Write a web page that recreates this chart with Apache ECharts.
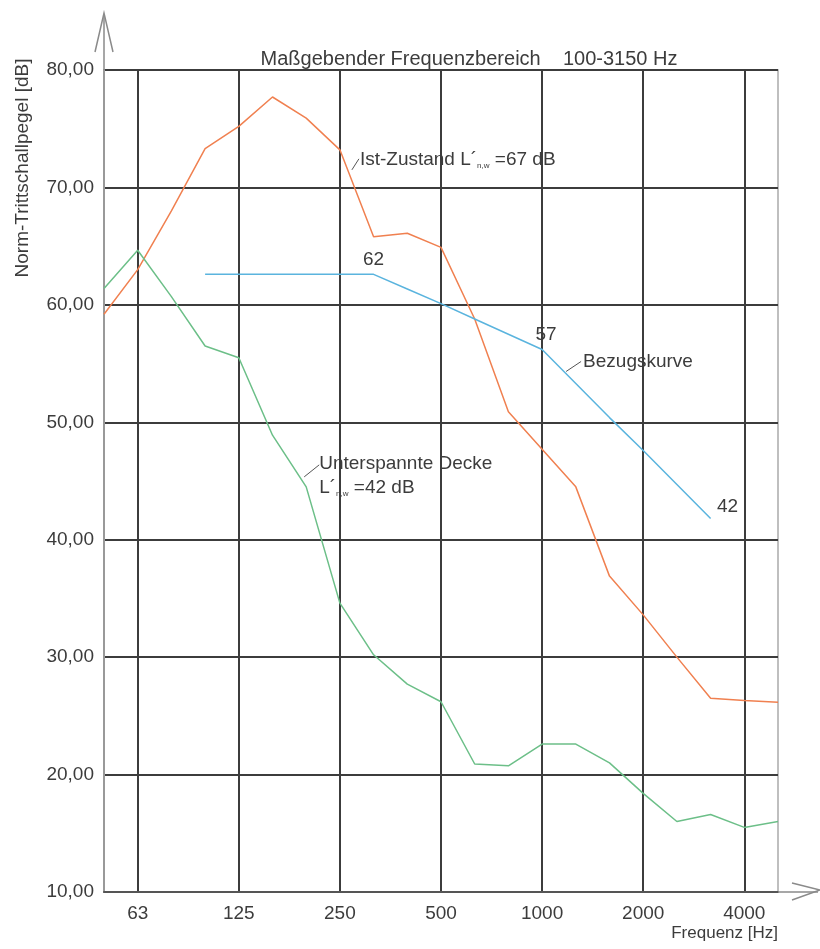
<!DOCTYPE html>
<html>
<head>
<meta charset="utf-8">
<script src="https://cdn.jsdelivr.net/npm/echarts@6/dist/echarts.min.js"></script>
<style>html,body{margin:0;padding:0;background:#fff}#c{width:820px;height:949px}</style>
</head>
<body>
<div id="c"></div>
<script>
// Third-octave band centre frequencies (Hz)
const categories = ['50','63','80','100','125','160','200','250','315','400','500','630','800','1000','1250','1600','2000','2500','3150','4000','5000'];
// Octave tick labels shown on the x axis
const tickLabels = ['63','125','250','500','1000','2000','4000'];
// Ist-Zustand (orange)
const istZustand = [59.2,63.0,68.0,73.3,75.2,77.7,75.9,73.2,65.8,66.1,64.9,58.8,50.9,47.7,44.5,36.9,33.6,30.0,26.5,26.3,26.15];
// Unterspannte Decke (green)
const unterspannt = [61.4,64.65,60.7,56.5,55.5,48.9,44.5,34.6,30.2,27.7,26.2,20.9,20.75,22.6,22.6,21.0,18.4,16.0,16.6,15.5,16.0];
// Bezugskurve (blue), 100-3150 Hz
const bezugskurve = [null,null,null,62.6,62.6,62.6,62.6,62.6,62.6,61.35,60.1,58.8,57.5,56.2,53.3,50.4,47.6,44.7,41.8,null,null];
const yTicks = [10,20,30,40,50,60,70,80];

const FONT = '"Liberation Sans", Arial, sans-serif';
const TXT = '#3c3c3c';
const FS = 19;
const G = {left:104, right:42, top:70, bottom:57};

const chart = echarts.init(document.getElementById('c'));
const option = {
  animation:false,
  backgroundColor:'#fff',
  textStyle:{fontFamily:FONT},
  title:{
    text:'Maßgebender Frequenzbereich    100-3150 Hz',
    left:464, top:44, textAlign:'center',
    textStyle:{fontFamily:FONT,fontSize:20,fontWeight:'normal',color:TXT}
  },
  grid:{left:G.left,right:G.right,top:G.top,bottom:G.bottom,outerBoundsMode:'none',containLabel:false,show:true,borderColor:'#aaa',borderWidth:1.5,backgroundColor:'transparent'},
  xAxis:{
    type:'category', data:categories, boundaryGap:false,
    axisLine:{show:true,lineStyle:{color:'#555',width:2}},
    axisTick:{show:false},
    axisLabel:{
      interval:(i,v)=>tickLabels.includes(v),
      formatter:v=>tickLabels.includes(v)?v:'',
      fontFamily:FONT,fontSize:FS,color:TXT,margin:12
    },
    splitLine:{show:true,interval:(i,v)=>tickLabels.includes(v),lineStyle:{color:'#3c3c3c',width:2}}
  },
  yAxis:{
    type:'value', min:yTicks[0], max:yTicks[yTicks.length-1], interval:10,
    axisLine:{show:true,lineStyle:{color:'#999',width:2}},
    axisTick:{show:false},
    axisLabel:{formatter:v=>v.toFixed(2).replace('.',','),fontFamily:FONT,fontSize:FS,color:TXT,margin:10},
    splitLine:{show:true,lineStyle:{color:'#3c3c3c',width:2}}
  },
  series:[
    {name:'Ist-Zustand',type:'line',data:istZustand,symbol:'none',lineStyle:{color:'#f08050',width:1.5},z:5},
    {name:'Unterspannte Decke',type:'line',data:unterspannt,symbol:'none',lineStyle:{color:'#6cbf88',width:1.5},z:5},
    {name:'Bezugskurve',type:'line',data:bezugskurve,symbol:'none',connectNulls:false,lineStyle:{color:'#5ab4de',width:1.5},z:5}
  ]
};
chart.setOption(option);

function px(i, v){ return chart.convertToPixel({gridIndex:0},[i,v]); }
const rich = {
  sub:{fontSize:8,color:'#888',fontFamily:FONT,verticalAlign:'bottom',padding:[7,0,0,0]},
  n:{fontSize:FS,color:TXT,fontFamily:FONT}
};
const g = [];
function txt(x,y,text,align,size){
  g.push({type:'text',x:x,y:y,z:20,style:{text:text,font:(size||FS)+'px '+FONT,fill:TXT,align:align||'left',verticalAlign:'middle',rich:rich}});
}
function lead(x1,y1,x2,y2){
  g.push({type:'line',z:20,shape:{x1:x1,y1:y1,x2:x2,y2:y2},style:{stroke:'#555',lineWidth:1}});
}
// Bezugskurve labels
let p = px(8, bezugskurve[8]); txt(p[0], p[1]-15, '62', 'center');
p = px(13, bezugskurve[13]); txt(p[0]+4, p[1]-15, '57', 'center');
p = px(18, bezugskurve[18]); txt(p[0]+17, p[1]-12, '42', 'center');
p = px(13, bezugskurve[13]); lead(p[0]+24,p[1]+22,p[0]+39,p[1]+12); txt(p[0]+41, p[1]+12, 'Bezugskurve');
// Ist-Zustand
p = px(7, istZustand[7]); lead(p[0]+12,p[1]+20,p[0]+19,p[1]+9);
txt(p[0]+20, p[1]+10, '{n|Ist-Zustand L´}{sub|n,w}{n| =67 dB}');
// Unterspannte Decke
p = px(6, unterspannt[6]); lead(p[0]-2,p[1]-10,p[0]+13,p[1]-22);
txt(p[0]+13, p[1]-23, 'Unterspannte Decke');
txt(p[0]+13, p[1]+1, '{n|L´}{sub|n,w}{n| =42 dB}');
// Axis names
const bl = px(0, 10), br = px(20, 10), tl = px(0, 80);
txt(br[0], br[1]+41, 'Frequenz [Hz]', 'right', 17);
g.push({type:'text',x:23,y:168,rotation:Math.PI/2,z:20,style:{text:'Norm-Trittschallpegel [dB]',font:'19px '+FONT,fill:TXT,align:'center',verticalAlign:'middle'}});
// Arrows
const ac = '#8a8a8a';
g.push({type:'polyline',z:20,shape:{points:[[tl[0]-9,tl[1]-18],[tl[0],tl[1]-57],[tl[0]+9,tl[1]-18]]},style:{stroke:ac,lineWidth:1.5,fill:null}});
g.push({type:'line',z:20,shape:{x1:tl[0],y1:tl[1],x2:tl[0],y2:tl[1]-55},style:{stroke:ac,lineWidth:1.5}});
g.push({type:'line',z:20,shape:{x1:br[0],y1:br[1],x2:br[0]+40,y2:br[1]},style:{stroke:ac,lineWidth:1.5}});
g.push({type:'polyline',z:20,shape:{points:[[br[0]+14,br[1]-9],[br[0]+42,br[1]-2],[br[0]+14,br[1]+8]]},style:{stroke:ac,lineWidth:1.5,fill:null}});
chart.setOption({graphic:g});
</script>
</body>
</html>
